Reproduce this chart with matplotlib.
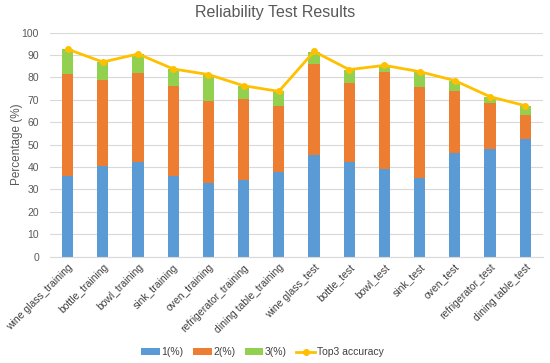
import matplotlib
matplotlib.use("Agg")
import matplotlib.pyplot as plt
import numpy as np

plt.rcParams['font.family'] = ['Liberation Sans', 'DejaVu Sans']

categories = ["wine glass_training", "bottle_training", "bowl_training", "sink_training",
              "oven_training", "refrigerator_training", "dining table_training",
              "wine glass_test", "bottle_test", "bowl_test", "sink_test", "oven_test",
              "refrigerator_test", "dining table_test"]
top1 = [36.2, 40.3, 42.4, 36.0, 33.0, 34.4, 37.9, 45.5, 42.3, 39.1, 35.3, 46.1, 48.1, 52.5]
top2 = [45.2, 38.6, 39.6, 40.3, 36.3, 35.8, 29.2, 40.4, 35.2, 43.3, 40.3, 27.7, 20.6, 10.9]
top3 = [11.2, 8.0, 8.5, 7.5, 12.0, 6.1, 6.7, 5.6, 6.0, 3.0, 7.0, 4.8, 2.7, 4.0]
top3_acc = [92.6, 86.9, 90.5, 83.8, 81.3, 76.3, 73.8, 91.6, 83.5, 85.4, 82.6, 78.6, 71.4, 67.4]

blue = '#5B9BD5'
orange = '#ED7D31'
green = '#92D050'
gold = '#FFC000'
grey = '#595959'

fig = plt.figure(figsize=(5.5, 3.63), dpi=100)
ax = fig.add_axes([0.091, 0.293, 0.896, 0.617])

x = np.arange(len(categories))
w = 0.32
b1 = ax.bar(x, top1, w, color=blue, label='1(%)', zorder=2)
b2 = ax.bar(x, top2, w, bottom=top1, color=orange, label='2(%)', zorder=2)
bottom3 = np.array(top1) + np.array(top2)
b3 = ax.bar(x, top3, w, bottom=bottom3, color=green, label='3(%)', zorder=2)
ln, = ax.plot(x, top3_acc, color=gold, lw=2, marker='o', ms=4, label='Top3 accuracy', zorder=3)

ax.set_xlim(-0.5, len(categories) - 0.5)
ax.set_ylim(0, 100)
ax.set_yticks(range(0, 101, 10))
ax.yaxis.grid(True, color='#D9D9D9', lw=0.8, zorder=0)
ax.set_axisbelow(True)
for s in ['top', 'right', 'left']:
    ax.spines[s].set_visible(False)
ax.spines['bottom'].set_color('#D9D9D9')
ax.tick_params(axis='both', length=0, colors=grey, labelsize=7.5)
ax.tick_params(axis='y', pad=8)
ax.tick_params(axis='x', pad=4)
ax.set_xticks(x)
ax.set_xticklabels(categories, rotation=45, ha='right', rotation_mode='anchor', color='#404040')
ax.set_ylabel('Percentage (%)', color=grey, fontsize=8.5, labelpad=-1)

fig.suptitle('Reliability Test Results', y=0.985, fontsize=11.5, color=grey)

fig.legend(handles=[b1, b2, b3, ln], loc='lower center', bbox_to_anchor=(0.477, -0.01),
           ncol=4, frameon=False, fontsize=7.5, handlelength=1.8, handleheight=0.7,
           columnspacing=0.9, handletextpad=0.15, labelcolor='#404040')

fig.savefig('out.png', dpi=100)
